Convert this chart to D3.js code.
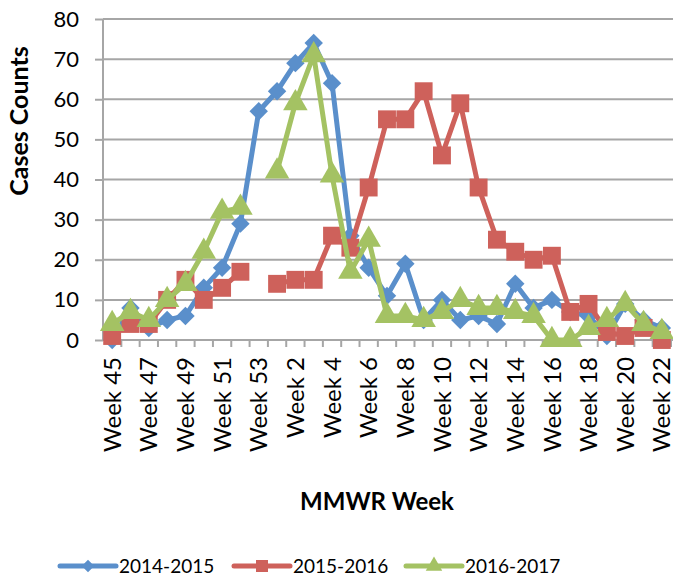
<!DOCTYPE html>
<html>
<head>
<meta charset="utf-8">
<script src="https://cdn.jsdelivr.net/npm/d3@7"></script>
<style>
  html, body { margin: 0; padding: 0; background: #fff; }
  svg { display: block; font-family: Lato, "Open Sans", sans-serif; }
</style>
</head>
<body>
<svg id="chart" width="673" height="577"></svg>
<script>
const weeks = ["Week 45","Week 46","Week 47","Week 48","Week 49","Week 50","Week 51","Week 52","Week 53",
  "Week 1","Week 2","Week 3","Week 4","Week 5","Week 6","Week 7","Week 8","Week 9","Week 10","Week 11",
  "Week 12","Week 13","Week 14","Week 15","Week 16","Week 17","Week 18","Week 19","Week 20","Week 21","Week 22"];
const season2014 = [0,8,3,5,6,13,18,29,57, 62,69,74,64,26,18,11,19,5,10,5,6,4,14,8,10,7,6,1,9,5,3];
const season2015 = [1,4,4,10,15,10,13,17,null, 14,15,15,26,23,38,55,55,62,46,59,38,25,22,20,21,7,9,2,1,3,0];
const season2016 = [4,7,5,10,14,22,32,33,null, 42,59,71,41,17,25,6,6,5,7,10,8,8,7,6,0,0,3,5,9,4,2];
const seriesNames = ["2014-2015","2015-2016","2016-2017"];
const yTicks = [0,10,20,30,40,50,60,70,80];

(function () {
const colors = ["#5A8FCB", "#CE615B", "#A4C263"];
const shapes = [d3.symbolSquare, d3.symbolSquare, d3.symbolTriangle];
const rotations = [45, 0, 0];
const symSizes = [170, 320, 260];

const svg = d3.select("#chart");
const pLeft = 103, pRight = 671, pTop = 19, pBottom = 340;

const x = d3.scaleBand().domain(weeks).range([pLeft, pRight]).padding(0);
const y = d3.scaleLinear().domain([0, 80]).range([pBottom, pTop]);

// gridlines
svg.append("g").selectAll("line").data(yTicks.filter(d => d > 0)).join("line")
  .attr("x1", pLeft).attr("x2", 673)
  .attr("y1", d => y(d)).attr("y2", d => y(d))
  .attr("stroke", "#A6A6A6").attr("stroke-width", 2);

// y axis
const yAxis = svg.append("g").attr("transform", `translate(${pLeft},0)`)
  .call(d3.axisLeft(y).tickValues(yTicks).tickSize(8).tickPadding(16));
yAxis.select(".domain").attr("stroke", "#A6A6A6").attr("stroke-width", 2).attr("d", `M0,${pTop}V${pBottom}`);
yAxis.selectAll(".tick line").attr("stroke", "#A6A6A6").attr("stroke-width", 2);
yAxis.selectAll(".tick text").attr("font-size", 22).attr("fill", "#000")
  .attr("font-family", "Lato, sans-serif");

// x axis
const xg = svg.append("g");
xg.append("line").attr("x1", pLeft).attr("x2", 673).attr("y1", pBottom).attr("y2", pBottom)
  .attr("stroke", "#A6A6A6").attr("stroke-width", 2);
const boundaries = d3.range(1, weeks.length + 1).map(i => pLeft + i * x.bandwidth());
xg.selectAll("line.tk").data(boundaries).join("line").attr("class", "tk")
  .attr("x1", d => d).attr("x2", d => d).attr("y1", pBottom).attr("y2", pBottom + 7)
  .attr("stroke", "#A6A6A6").attr("stroke-width", 2);
xg.selectAll("text").data(weeks.filter((d, i) => i % 2 === 0)).join("text")
  .attr("transform", d => `translate(${x(d) + x.bandwidth() / 2},357) rotate(-90)`)
  .attr("text-anchor", "end").attr("dy", "0.36em")
  .attr("font-size", 24).attr("fill", "#000").text(d => d);

// series
const allSeries = [season2014, season2015, season2016];
const line = d3.line()
  .defined(d => d != null)
  .x((d, i) => x(weeks[i]) + x.bandwidth() / 2)
  .y(d => y(d));

allSeries.forEach((vals, si) => {
  const g = svg.append("g");
  g.append("path").datum(vals).attr("d", line)
    .attr("fill", "none").attr("stroke", colors[si]).attr("stroke-width", 5)
    .attr("stroke-linejoin", "round").attr("stroke-linecap", "round");
  g.selectAll("path.m").data(vals.map((v, i) => ({v, i})).filter(d => d.v != null)).join("path")
    .attr("class", "m")
    .attr("transform", d => `translate(${x(weeks[d.i]) + x.bandwidth() / 2},${y(d.v)}) rotate(${rotations[si]})`)
    .attr("d", d3.symbol().type(shapes[si]).size(symSizes[si]))
    .attr("fill", colors[si]);
});

// axis titles
svg.append("text").attr("transform", "translate(28,121) rotate(-90)")
  .attr("text-anchor", "middle").attr("font-size", 25).attr("font-weight", "bold")
  .text("Cases Counts");
svg.append("text").attr("x", 377).attr("y", 510)
  .attr("text-anchor", "middle").attr("font-size", 24).attr("font-weight", "bold")
  .text("MMWR Week");

// legend
const legendX = [60, 234, 406];
seriesNames.forEach((name, si) => {
  const g = svg.append("g").attr("transform", `translate(${legendX[si]},566)`);
  g.append("line").attr("x1", 0).attr("x2", 56).attr("y1", 0).attr("y2", 0)
    .attr("stroke", colors[si]).attr("stroke-width", 5).attr("stroke-linecap", "round");
  g.append("path").attr("transform", `translate(28,0) rotate(${rotations[si]})`)
    .attr("d", d3.symbol().type(shapes[si]).size(symSizes[si] * 0.45)).attr("fill", colors[si]);
  g.append("text").attr("x", 59).attr("y", 0).attr("dy", "0.35em")
    .attr("font-size", 19).attr("fill", "#000").text(name);
});
})();
</script>
</body>
</html>
